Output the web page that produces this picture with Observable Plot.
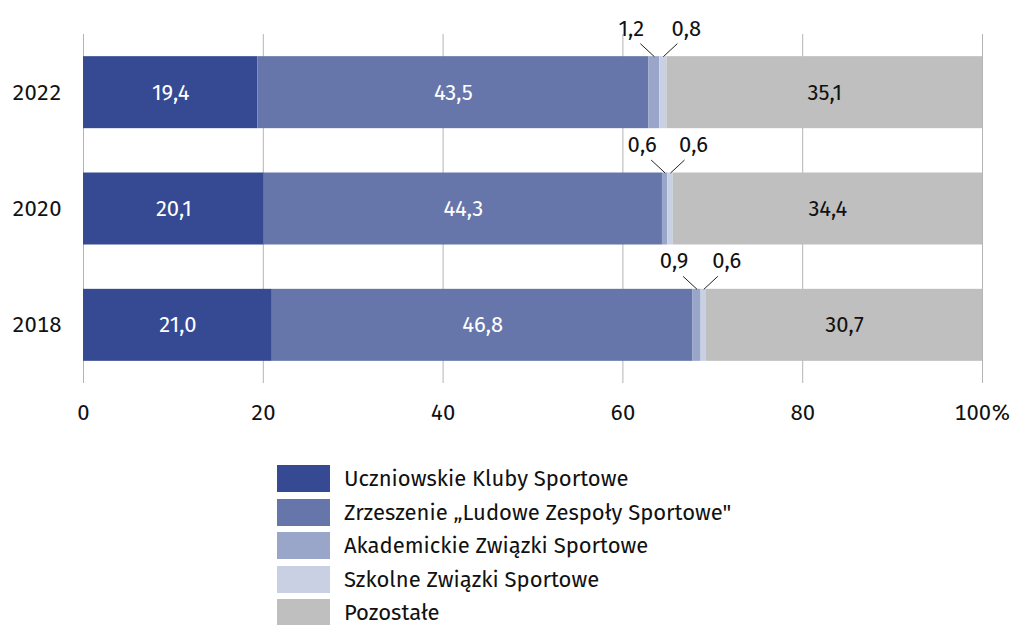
<!DOCTYPE html>
<html><head><meta charset="utf-8">
<script src="https://cdn.jsdelivr.net/npm/d3@7"></script>
<script src="https://cdn.jsdelivr.net/npm/@observablehq/plot@0.6"></script>
<style>
body{margin:0;background:#fff;font-family:"Fira Sans","Noto Sans",sans-serif;color:#000;}
#chart svg{display:block;}
#legend{position:relative;margin-left:277px;margin-top:25px;}
.row{display:flex;align-items:center;height:27px;margin-bottom:6.5px;}
.sw{width:53px;height:27px;flex:none;}
.lb{margin-left:14px;font-size:22px;white-space:nowrap;color:#111;}
</style></head><body>
<div id="chart"></div>
<div id="legend"></div>
<script>
const years = ["2022", "2020", "2018"];
const series = ["Uczniowskie Kluby Sportowe", "Zrzeszenie „Ludowe Zespoły Sportowe\"", "Akademickie Związki Sportowe", "Szkolne Związki Sportowe", "Pozostałe"];
const colors = ["#354a93", "#6676ab", "#99a5c9", "#cad0e4", "#bfbfbf"];
const uks = [19.4, 20.1, 21.0];
const lzs = [43.5, 44.3, 46.8];
const azs = [1.2, 0.6, 0.9];
const szs = [0.8, 0.6, 0.6];
const other = [35.1, 34.4, 30.7];
const xTicks = [0, 20, 40, 60, 80, 100];

const valuesBySeries = [uks, lzs, azs, szs, other];
const rows = [];
years.forEach((yr, i) => {
  let acc = 0;
  series.forEach((s, k) => {
    const v = valuesBySeries[k][i];
    rows.push({year: yr, yi: i, series: s, k, value: v, x1: acc, x2: acc + v, mid: acc + v / 2});
    acc += v;
  });
});
const fmt = v => v.toFixed(1).replace(".", ",");

const W = 1022, H = 440, ML = 83, MR = 40, MT = 34, MB = 57;
const pxX = (W - ML - MR) / 100, pxY = (H - MT - MB) / 3;
const HALF = 36 / pxY; // half bar thickness in band units

const big = rows.filter(d => d.value >= 5);
const small = rows.filter(d => d.value < 5).map(d => ({...d, dir: d.k === 2 ? -1 : 1}));

const chart = Plot.plot({
  width: W, height: H, marginLeft: ML, marginRight: MR, marginTop: MT, marginBottom: MB,
  style: {fontSize: "22px", fontFamily: "'Fira Sans','Noto Sans',sans-serif", color: "#111", background: "#fff"},
  x: {domain: [0, 100], ticks: xTicks, tickFormat: d => d === 100 ? "100%" : String(d), tickSize: 0, tickPadding: 21, label: null},
  y: {domain: [-0.5, 2.5], reverse: true, ticks: [0, 1, 2], tickFormat: i => years[i], tickSize: 0, tickPadding: 22, label: null},
  color: {domain: series, range: colors},
  marks: [
    Plot.ruleX(xTicks, {stroke: "#b4b4b4", strokeWidth: 1}),
    Plot.rectX(rows, {x1: "x1", x2: "x2", y1: d => d.yi - HALF, y2: d => d.yi + HALF, fill: "series"}),
    Plot.text(big.filter(d => d.k < 2), {x: "mid", y: "yi", text: d => fmt(d.value), fill: "#fff", fontSize: 22}),
    Plot.text(big.filter(d => d.k === 4), {x: "mid", y: "yi", text: d => fmt(d.value), fill: "#111", fontSize: 22}),
    Plot.link(small, {
      x1: "mid", y1: d => d.yi - HALF,
      x2: d => d.mid + d.dir * 14 / pxX, y2: d => d.yi - HALF - 13 / pxY,
      stroke: "#222", strokeWidth: 1
    }),
    Plot.text(small, {x: d => d.mid + d.dir * 23 / pxX, y: d => d.yi - HALF, dy: -28, text: d => fmt(d.value), fill: "#111", fontSize: 22})
  ]
});
document.getElementById("chart").appendChild(chart);

const legend = document.getElementById("legend");
series.forEach((s, k) => {
  const row = document.createElement("div");
  row.className = "row";
  const sw = document.createElement("div");
  sw.className = "sw";
  sw.style.background = colors[k];
  const lb = document.createElement("div");
  lb.className = "lb";
  lb.textContent = s;
  row.appendChild(sw);
  row.appendChild(lb);
  legend.appendChild(row);
});
</script>
</body></html>
